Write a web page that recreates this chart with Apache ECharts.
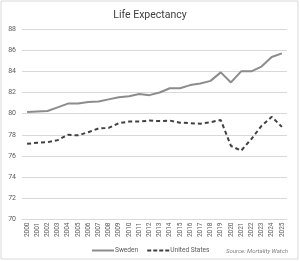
<!DOCTYPE html>
<html><head><meta charset="utf-8">
<script src="https://cdn.jsdelivr.net/npm/echarts@6/dist/echarts.min.js"></script>
<style>html,body{margin:0;padding:0;background:#fff}#c{width:300px;height:261px}</style>
</head><body><div id="c"></div>
<script>
const years = ['2000','2001','2002','2003','2004','2005','2006','2007','2008','2009','2010','2011','2012','2013','2014','2015','2016','2017','2018','2019','2020','2021','2022','2023','2024','2025'];
const sweden = [80.15,80.2,80.25,80.6,80.95,80.95,81.1,81.15,81.35,81.55,81.65,81.85,81.75,82.0,82.4,82.4,82.7,82.85,83.1,83.9,82.95,84.0,84.0,84.45,85.35,85.7];
const usa = [77.15,77.25,77.3,77.5,78.0,77.95,78.25,78.6,78.65,79.1,79.25,79.25,79.35,79.3,79.35,79.15,79.1,79.05,79.2,79.4,76.95,76.5,77.6,78.85,79.7,78.75];
const yTicks = [70,72,74,76,78,80,82,84,86,88];
const font = 'Roboto';
const chart = echarts.init(document.getElementById('c'), null, {renderer:'canvas'});
chart.setOption({
  animation:false,
  backgroundColor:'#fff',
  title:{text:'Life Expectancy',left:'center',top:5,textStyle:{fontFamily:font,fontSize:10.5,fontWeight:'normal',color:'#404040'}},
  grid:{left:22,right:13,top:29,bottom:41.5},
  xAxis:{type:'category',data:years,boundaryGap:true,
    axisLine:{show:true,lineStyle:{color:'#d9d9d9'}},axisTick:{show:false},
    axisLabel:{rotate:90,interval:0,fontFamily:font,fontSize:6.5,color:'#595959',margin:3}},
  yAxis:{type:'value',min:yTicks[0],max:yTicks[yTicks.length-1],interval:2,
    axisLine:{show:false},axisTick:{show:false},
    splitLine:{lineStyle:{color:'#d9d9d9',width:1}},
    axisLabel:{fontFamily:font,fontSize:7,color:'#595959',margin:6}},
  legend:{top:247,left:92,padding:0,itemWidth:22,itemHeight:2,itemGap:9,
    textStyle:{fontFamily:font,fontSize:6.6,color:'#595959',padding:[0,0,0,-4]},
    data:[
      {name:'Sweden',icon:'rect',itemStyle:{color:'#8c8c8c'}},
      {name:'United States',icon:'path://M0,0h4v2h-4z M6,0h4v2h-4z M12,0h4v2h-4z M18,0h4v2h-4z',itemStyle:{color:'#404040'}}
    ]},
  graphic:[
    {type:'rect',shape:{x:1,y:1,width:297,height:258},style:{fill:'none',stroke:'#d9d9d9',lineWidth:1}},
    {type:'text',right:12,top:248,style:{text:'Source: Mortality Watch',fontFamily:font,fontSize:6,fontStyle:'italic',fill:'#7f7f7f'}}
  ],
  series:[
    {name:'Sweden',type:'line',data:sweden,symbol:'none',lineStyle:{color:'#8c8c8c',width:2},itemStyle:{color:'#8c8c8c'}},
    {name:'United States',type:'line',data:usa,symbol:'none',lineStyle:{color:'#404040',width:2,type:[4,3]},itemStyle:{color:'#404040'}}
  ]
});
</script></body></html>
